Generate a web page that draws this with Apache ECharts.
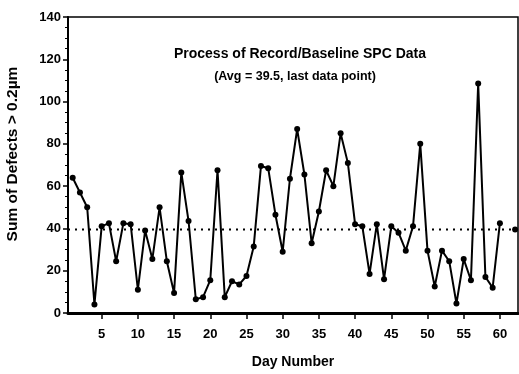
<!DOCTYPE html>
<html>
<head>
<meta charset="utf-8">
<script src="https://cdn.jsdelivr.net/npm/echarts@6/dist/echarts.min.js"></script>
<style>html,body{margin:0;padding:0;background:#fff}#c{width:519px;height:374px}</style>
</head>
<body>
<div id="c"></div>
<script>
var days = [];
for (var i = 1; i <= 60; i++) days.push(i);
var defects = [64, 57, 50, 4, 41, 42.5, 24.5, 42.5, 42, 11,
  39, 25.5, 50, 24.5, 9.5, 66.5, 43.5, 6.5, 7.5, 15.5,
  67.5, 7.5, 15, 13.5, 17.5, 31.5, 69.5, 68.5, 46.5, 29,
  63.5, 87, 65.5, 33, 48, 67.5, 60, 85, 71, 42,
  41, 18.5, 42, 16, 41, 38, 29.5, 41, 80, 29.5,
  12.5, 29.5, 24.5, 4.5, 25.5, 15.5, 108.5, 17, 12, 42.5];
var avgValue = 39.5;
var avgDay = 62.1;
var xTickValues = [5, 10, 15, 20, 25, 30, 35, 40, 45, 50, 55, 60];

var FONT = 'Liberation Sans';
var chart = echarts.init(document.getElementById('c'), null, {renderer: 'canvas'});
var mainData = days.map(function (d, i) { return [d, defects[i]]; });

chart.setOption({
  animation: false,
  backgroundColor: '#fff',
  title: [
    {text: 'Process of Record/Baseline SPC Data', left: 295, top: 42, textAlign: 'center',
     textStyle: {fontFamily: FONT, fontWeight: 'bold', fontSize: 14, color: '#000'}},
    {text: '(Avg = 39.5, last data point)', left: 290, top: 65, textAlign: 'center',
     textStyle: {fontFamily: FONT, fontWeight: 'bold', fontSize: 12.5, color: '#000'}}
  ],
  graphic: [
    {type: 'text', x: 13, y: 154, rotation: Math.PI / 2,
     style: {text: 'Sum of Defects > 0.2\u00b5m', fontFamily: FONT, fontWeight: 'bold', fontSize: 15.5,
             fill: '#000', align: 'center', verticalAlign: 'middle'}}
  ],
  grid: {left: 68, right: 1, top: 17, bottom: 59, show: true, borderColor: '#000', borderWidth: 1.5},
  xAxis: {
    type: 'value', min: 0.35, max: 62.5,
    name: 'Day Number', nameLocation: 'middle', nameGap: 42,
    nameTextStyle: {fontFamily: FONT, fontWeight: 'bold', fontSize: 14, color: '#000'},
    axisLine: {show: true, onZero: false, lineStyle: {color: '#000', width: 3}},
    axisTick: {show: true, inside: false, length: 6, lineStyle: {color: '#000', width: 1.5}, customValues: xTickValues},
    axisLabel: {margin: 15, fontFamily: FONT, fontWeight: 'bold', fontSize: 13, color: '#000', customValues: xTickValues},
    splitLine: {show: false}
  },
  yAxis: {
    type: 'value', min: 0, max: 140, interval: 20,
    axisLine: {show: true, lineStyle: {color: '#000', width: 2}},
    axisTick: {show: true, inside: false, length: 5, lineStyle: {color: '#000', width: 1.5}},
    minorTick: {show: true, splitNumber: 4, length: 3, lineStyle: {color: '#000', width: 1}},
    axisLabel: {margin: 7, fontFamily: FONT, fontWeight: 'bold', fontSize: 13, color: '#000'},
    splitLine: {show: false}
  },
  series: [
    {
      type: 'line', data: mainData,
      symbol: 'circle', symbolSize: 6, showSymbol: true,
      lineStyle: {color: '#000', width: 2},
      itemStyle: {color: '#000'}
    },
    {
      type: 'line',
      data: [{value: [0.35, avgValue], symbol: 'none'}, {value: [avgDay, avgValue], symbol: 'circle', symbolSize: 6}],
      lineStyle: {color: '#000', width: 2, type: [2, 5]},
      itemStyle: {color: '#000'}
    }
  ]
});
</script>
</body>
</html>
